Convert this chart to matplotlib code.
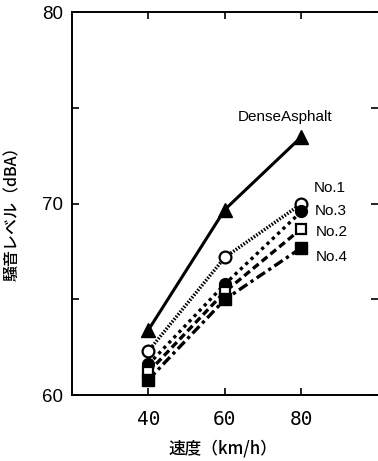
import numpy as np
import matplotlib.pyplot as plt
from matplotlib.ticker import MultipleLocator

plt.rcParams['font.family'] = ['Liberation Sans', 'DejaVu Sans']

speed = [40, 60, 80]
dense = [63.4, 69.7, 73.5]
no1 = [62.3, 67.2, 70.0]
no3 = [61.6, 65.8, 69.6]
no2 = [61.2, 65.4, 68.7]
no4 = [60.8, 65.0, 67.7]

jp = ['Noto Sans CJK JP', 'DejaVu Sans']

fig = plt.figure(figsize=(3.78, 4.61), dpi=100)
ax = fig.add_axes([0.19, 0.143, 0.81, 0.83])

# 各系列
ax.plot(speed, dense, color='black', lw=2.2, ls='-', marker='^', ms=10, mfc='black', mec='black')
ax.plot(speed, no1, color='black', lw=2.5, ls=(0, (0.45, 0.45)), marker='o', ms=8.5, mfc='white', mec='black', mew=1.6)
ax.plot(speed, no3, color='black', lw=2.4, ls=(0, (1, 1.2)), marker='o', ms=8.5, mfc='black', mec='black')
ax.plot(speed, no2, color='black', lw=2.4, ls=(0, (2.2, 1.2)), marker='s', ms=7.5, mfc='white', mec='black', mew=1.6)
ax.plot(speed, no4, color='black', lw=2.4, ls=(0, (3, 1.2, 1, 1.2)), marker='s', ms=8.5, mfc='black', mec='black')

ax.text(75.6, 74.55, 'DenseAsphalt', ha='center', va='center', fontsize=11)
ax.text(83.3, 70.84, 'No.1', ha='left', va='center', fontsize=11)
ax.text(83.6, 69.63, 'No.3', ha='left', va='center', fontsize=11)
ax.text(83.8, 68.53, 'No.2', ha='left', va='center', fontsize=11)
ax.text(83.8, 67.2, 'No.4', ha='left', va='center', fontsize=11)

ax.set_xlim(20, 100)
ax.set_ylim(60, 80)
ax.set_xticks(speed)
ax.set_xticklabels(['40', '60', '80'], fontsize=14, family='DejaVu Sans Mono')
ax.yaxis.set_major_locator(MultipleLocator(10))
ax.yaxis.set_minor_locator(MultipleLocator(5))
ax.tick_params(axis='y', labelsize=13.5)
ax.tick_params(which='both', direction='in', top=True, right=True, length=5, width=1.2)
ax.tick_params(axis='x', pad=11)
ax.tick_params(axis='y', pad=6)

ax.spines['right'].set_visible(False)
for s in ['left', 'top', 'bottom']:
    ax.spines[s].set_linewidth(1.4)

fig.text(223 / 378, 1 - 448 / 461, '速度（km/h）', fontsize=12, family=jp, weight='medium',
         ha='center', va='center')
fig.text(13 / 378, 1 - 210 / 461, '騒音レベル（dBA）', fontsize=11.5, family=jp, weight='medium',
         rotation=90, ha='center', va='center')

fig.savefig('out.png', dpi=100)
